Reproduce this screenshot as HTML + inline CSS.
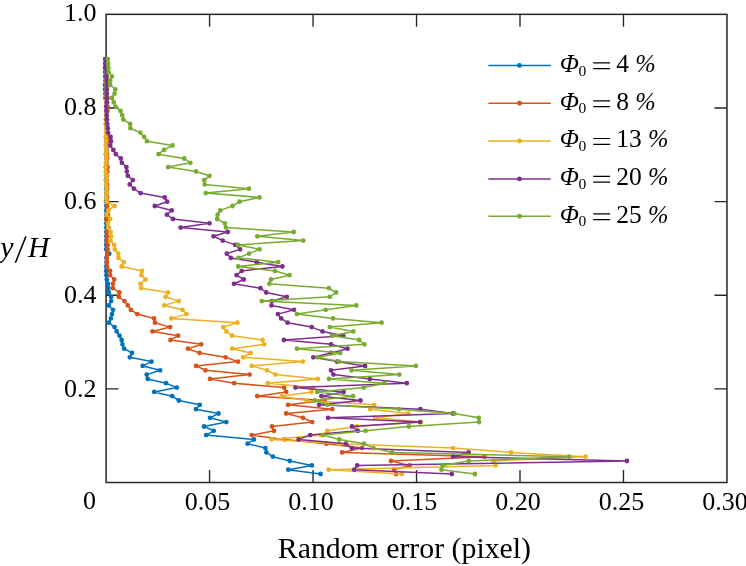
<!DOCTYPE html><html><head><meta charset="utf-8"><style>html,body{margin:0;padding:0;background:#fff;overflow:hidden}svg{display:block;will-change:transform}text{font-family:"Liberation Serif",serif;fill:#000}.i{font-style:italic}</style></head><body>
<svg width="746" height="566" viewBox="0 0 746 566">
<path d="M209.57 482.50V470.00M209.57 14.35V26.85M313.05 482.50V470.00M313.05 14.35V26.85M416.53 482.50V470.00M416.53 14.35V26.85M520.00 482.50V470.00M520.00 14.35V26.85M623.48 482.50V470.00M623.48 14.35V26.85M106.10 388.87H118.60M726.95 388.87H714.45M106.10 295.24H118.60M726.95 295.24H714.45M106.10 201.61H118.60M726.95 201.61H714.45M106.10 107.98H118.60M726.95 107.98H714.45" stroke="#262626" stroke-width="1.35" fill="none"/>
<rect x="106.10" y="14.35" width="620.85" height="468.15" fill="none" stroke="#262626" stroke-width="1.5"/>
<polyline points="320.6,474.0 288.3,469.7 311.9,465.4 289.8,461.0 272.9,456.7 266.4,452.4 265.4,448.1 247.6,443.7 254.0,439.4 206.2,435.1 213.7,430.8 204.0,426.5 226.3,422.1 210.0,417.8 218.5,413.5 196.0,409.2 199.8,404.8 178.8,400.5 172.2,396.2 154.2,391.9 176.8,387.6 166.0,383.2 147.8,378.9 146.7,374.6 160.2,370.3 142.7,365.9 151.5,361.6 129.8,357.3 132.0,353.0 124.1,348.7 122.5,344.3 121.6,340.0 119.5,335.7 116.7,331.4 114.6,327.1 108.9,322.7 110.9,318.4 112.0,314.1 113.0,309.8 108.7,305.4 111.1,301.1 111.1,296.8 108.7,292.5 108.4,288.2 108.0,283.8 106.8,279.5 106.4,275.2 106.2,270.9 106.1,266.5 106.5,262.2 106.4,257.9 109.3,253.6 106.1,249.3 106.2,244.9 106.2,240.6 106.3,236.3 106.3,232.0 106.2,227.6 106.3,223.3 106.5,219.0 106.2,214.7 106.2,210.4 106.3,206.0 106.0,201.7 106.1,197.4 106.5,193.1 106.2,188.7 106.2,184.4 105.9,180.1 106.1,175.8 106.2,171.5 105.9,167.1 106.3,162.8 106.3,158.5 105.9,154.2 106.3,149.9 106.2,145.5 106.3,141.2 106.1,136.9 106.3,132.6 106.3,128.2 105.9,123.9 105.9,119.6 106.3,115.3 106.5,111.0 106.1,106.6 106.2,102.3 105.4,98.0 105.4,93.7 105.0,89.3 105.0,85.0 105.5,80.7 105.2,76.4 105.1,72.1 105.6,67.7 105.3,63.4 105.5,59.1" fill="none" stroke="#0072BD" stroke-width="1.50" stroke-linejoin="round"/>
<path d="M320.6 474.0m-2.4 0a2.4 2.4 0 1 0 4.8 0a2.4 2.4 0 1 0 -4.8 0M288.3 469.7m-2.4 0a2.4 2.4 0 1 0 4.8 0a2.4 2.4 0 1 0 -4.8 0M311.9 465.4m-2.4 0a2.4 2.4 0 1 0 4.8 0a2.4 2.4 0 1 0 -4.8 0M289.8 461.0m-2.4 0a2.4 2.4 0 1 0 4.8 0a2.4 2.4 0 1 0 -4.8 0M272.9 456.7m-2.4 0a2.4 2.4 0 1 0 4.8 0a2.4 2.4 0 1 0 -4.8 0M266.4 452.4m-2.4 0a2.4 2.4 0 1 0 4.8 0a2.4 2.4 0 1 0 -4.8 0M265.4 448.1m-2.4 0a2.4 2.4 0 1 0 4.8 0a2.4 2.4 0 1 0 -4.8 0M247.6 443.7m-2.4 0a2.4 2.4 0 1 0 4.8 0a2.4 2.4 0 1 0 -4.8 0M254.0 439.4m-2.4 0a2.4 2.4 0 1 0 4.8 0a2.4 2.4 0 1 0 -4.8 0M206.2 435.1m-2.4 0a2.4 2.4 0 1 0 4.8 0a2.4 2.4 0 1 0 -4.8 0M213.7 430.8m-2.4 0a2.4 2.4 0 1 0 4.8 0a2.4 2.4 0 1 0 -4.8 0M204.0 426.5m-2.4 0a2.4 2.4 0 1 0 4.8 0a2.4 2.4 0 1 0 -4.8 0M226.3 422.1m-2.4 0a2.4 2.4 0 1 0 4.8 0a2.4 2.4 0 1 0 -4.8 0M210.0 417.8m-2.4 0a2.4 2.4 0 1 0 4.8 0a2.4 2.4 0 1 0 -4.8 0M218.5 413.5m-2.4 0a2.4 2.4 0 1 0 4.8 0a2.4 2.4 0 1 0 -4.8 0M196.0 409.2m-2.4 0a2.4 2.4 0 1 0 4.8 0a2.4 2.4 0 1 0 -4.8 0M199.8 404.8m-2.4 0a2.4 2.4 0 1 0 4.8 0a2.4 2.4 0 1 0 -4.8 0M178.8 400.5m-2.4 0a2.4 2.4 0 1 0 4.8 0a2.4 2.4 0 1 0 -4.8 0M172.2 396.2m-2.4 0a2.4 2.4 0 1 0 4.8 0a2.4 2.4 0 1 0 -4.8 0M154.2 391.9m-2.4 0a2.4 2.4 0 1 0 4.8 0a2.4 2.4 0 1 0 -4.8 0M176.8 387.6m-2.4 0a2.4 2.4 0 1 0 4.8 0a2.4 2.4 0 1 0 -4.8 0M166.0 383.2m-2.4 0a2.4 2.4 0 1 0 4.8 0a2.4 2.4 0 1 0 -4.8 0M147.8 378.9m-2.4 0a2.4 2.4 0 1 0 4.8 0a2.4 2.4 0 1 0 -4.8 0M146.7 374.6m-2.4 0a2.4 2.4 0 1 0 4.8 0a2.4 2.4 0 1 0 -4.8 0M160.2 370.3m-2.4 0a2.4 2.4 0 1 0 4.8 0a2.4 2.4 0 1 0 -4.8 0M142.7 365.9m-2.4 0a2.4 2.4 0 1 0 4.8 0a2.4 2.4 0 1 0 -4.8 0M151.5 361.6m-2.4 0a2.4 2.4 0 1 0 4.8 0a2.4 2.4 0 1 0 -4.8 0M129.8 357.3m-2.4 0a2.4 2.4 0 1 0 4.8 0a2.4 2.4 0 1 0 -4.8 0M132.0 353.0m-2.4 0a2.4 2.4 0 1 0 4.8 0a2.4 2.4 0 1 0 -4.8 0M124.1 348.7m-2.4 0a2.4 2.4 0 1 0 4.8 0a2.4 2.4 0 1 0 -4.8 0M122.5 344.3m-2.4 0a2.4 2.4 0 1 0 4.8 0a2.4 2.4 0 1 0 -4.8 0M121.6 340.0m-2.4 0a2.4 2.4 0 1 0 4.8 0a2.4 2.4 0 1 0 -4.8 0M119.5 335.7m-2.4 0a2.4 2.4 0 1 0 4.8 0a2.4 2.4 0 1 0 -4.8 0M116.7 331.4m-2.4 0a2.4 2.4 0 1 0 4.8 0a2.4 2.4 0 1 0 -4.8 0M114.6 327.1m-2.4 0a2.4 2.4 0 1 0 4.8 0a2.4 2.4 0 1 0 -4.8 0M108.9 322.7m-2.4 0a2.4 2.4 0 1 0 4.8 0a2.4 2.4 0 1 0 -4.8 0M110.9 318.4m-2.4 0a2.4 2.4 0 1 0 4.8 0a2.4 2.4 0 1 0 -4.8 0M112.0 314.1m-2.4 0a2.4 2.4 0 1 0 4.8 0a2.4 2.4 0 1 0 -4.8 0M113.0 309.8m-2.4 0a2.4 2.4 0 1 0 4.8 0a2.4 2.4 0 1 0 -4.8 0M108.7 305.4m-2.4 0a2.4 2.4 0 1 0 4.8 0a2.4 2.4 0 1 0 -4.8 0M111.1 301.1m-2.4 0a2.4 2.4 0 1 0 4.8 0a2.4 2.4 0 1 0 -4.8 0M111.1 296.8m-2.4 0a2.4 2.4 0 1 0 4.8 0a2.4 2.4 0 1 0 -4.8 0M108.7 292.5m-2.4 0a2.4 2.4 0 1 0 4.8 0a2.4 2.4 0 1 0 -4.8 0M108.4 288.2m-2.4 0a2.4 2.4 0 1 0 4.8 0a2.4 2.4 0 1 0 -4.8 0M108.0 283.8m-2.4 0a2.4 2.4 0 1 0 4.8 0a2.4 2.4 0 1 0 -4.8 0M106.8 279.5m-2.4 0a2.4 2.4 0 1 0 4.8 0a2.4 2.4 0 1 0 -4.8 0M106.4 275.2m-2.4 0a2.4 2.4 0 1 0 4.8 0a2.4 2.4 0 1 0 -4.8 0M106.2 270.9m-2.4 0a2.4 2.4 0 1 0 4.8 0a2.4 2.4 0 1 0 -4.8 0M106.1 266.5m-2.4 0a2.4 2.4 0 1 0 4.8 0a2.4 2.4 0 1 0 -4.8 0M106.5 262.2m-2.4 0a2.4 2.4 0 1 0 4.8 0a2.4 2.4 0 1 0 -4.8 0M106.4 257.9m-2.4 0a2.4 2.4 0 1 0 4.8 0a2.4 2.4 0 1 0 -4.8 0M109.3 253.6m-2.4 0a2.4 2.4 0 1 0 4.8 0a2.4 2.4 0 1 0 -4.8 0M106.1 249.3m-2.4 0a2.4 2.4 0 1 0 4.8 0a2.4 2.4 0 1 0 -4.8 0M106.2 244.9m-2.4 0a2.4 2.4 0 1 0 4.8 0a2.4 2.4 0 1 0 -4.8 0M106.2 240.6m-2.4 0a2.4 2.4 0 1 0 4.8 0a2.4 2.4 0 1 0 -4.8 0M106.3 236.3m-2.4 0a2.4 2.4 0 1 0 4.8 0a2.4 2.4 0 1 0 -4.8 0M106.3 232.0m-2.4 0a2.4 2.4 0 1 0 4.8 0a2.4 2.4 0 1 0 -4.8 0M106.2 227.6m-2.4 0a2.4 2.4 0 1 0 4.8 0a2.4 2.4 0 1 0 -4.8 0M106.3 223.3m-2.4 0a2.4 2.4 0 1 0 4.8 0a2.4 2.4 0 1 0 -4.8 0M106.5 219.0m-2.4 0a2.4 2.4 0 1 0 4.8 0a2.4 2.4 0 1 0 -4.8 0M106.2 214.7m-2.4 0a2.4 2.4 0 1 0 4.8 0a2.4 2.4 0 1 0 -4.8 0M106.2 210.4m-2.4 0a2.4 2.4 0 1 0 4.8 0a2.4 2.4 0 1 0 -4.8 0M106.3 206.0m-2.4 0a2.4 2.4 0 1 0 4.8 0a2.4 2.4 0 1 0 -4.8 0M106.0 201.7m-2.4 0a2.4 2.4 0 1 0 4.8 0a2.4 2.4 0 1 0 -4.8 0M106.1 197.4m-2.4 0a2.4 2.4 0 1 0 4.8 0a2.4 2.4 0 1 0 -4.8 0M106.5 193.1m-2.4 0a2.4 2.4 0 1 0 4.8 0a2.4 2.4 0 1 0 -4.8 0M106.2 188.7m-2.4 0a2.4 2.4 0 1 0 4.8 0a2.4 2.4 0 1 0 -4.8 0M106.2 184.4m-2.4 0a2.4 2.4 0 1 0 4.8 0a2.4 2.4 0 1 0 -4.8 0M105.9 180.1m-2.4 0a2.4 2.4 0 1 0 4.8 0a2.4 2.4 0 1 0 -4.8 0M106.1 175.8m-2.4 0a2.4 2.4 0 1 0 4.8 0a2.4 2.4 0 1 0 -4.8 0M106.2 171.5m-2.4 0a2.4 2.4 0 1 0 4.8 0a2.4 2.4 0 1 0 -4.8 0M105.9 167.1m-2.4 0a2.4 2.4 0 1 0 4.8 0a2.4 2.4 0 1 0 -4.8 0M106.3 162.8m-2.4 0a2.4 2.4 0 1 0 4.8 0a2.4 2.4 0 1 0 -4.8 0M106.3 158.5m-2.4 0a2.4 2.4 0 1 0 4.8 0a2.4 2.4 0 1 0 -4.8 0M105.9 154.2m-2.4 0a2.4 2.4 0 1 0 4.8 0a2.4 2.4 0 1 0 -4.8 0M106.3 149.9m-2.4 0a2.4 2.4 0 1 0 4.8 0a2.4 2.4 0 1 0 -4.8 0M106.2 145.5m-2.4 0a2.4 2.4 0 1 0 4.8 0a2.4 2.4 0 1 0 -4.8 0M106.3 141.2m-2.4 0a2.4 2.4 0 1 0 4.8 0a2.4 2.4 0 1 0 -4.8 0M106.1 136.9m-2.4 0a2.4 2.4 0 1 0 4.8 0a2.4 2.4 0 1 0 -4.8 0M106.3 132.6m-2.4 0a2.4 2.4 0 1 0 4.8 0a2.4 2.4 0 1 0 -4.8 0M106.3 128.2m-2.4 0a2.4 2.4 0 1 0 4.8 0a2.4 2.4 0 1 0 -4.8 0M105.9 123.9m-2.4 0a2.4 2.4 0 1 0 4.8 0a2.4 2.4 0 1 0 -4.8 0M105.9 119.6m-2.4 0a2.4 2.4 0 1 0 4.8 0a2.4 2.4 0 1 0 -4.8 0M106.3 115.3m-2.4 0a2.4 2.4 0 1 0 4.8 0a2.4 2.4 0 1 0 -4.8 0M106.5 111.0m-2.4 0a2.4 2.4 0 1 0 4.8 0a2.4 2.4 0 1 0 -4.8 0M106.1 106.6m-2.4 0a2.4 2.4 0 1 0 4.8 0a2.4 2.4 0 1 0 -4.8 0M106.2 102.3m-2.4 0a2.4 2.4 0 1 0 4.8 0a2.4 2.4 0 1 0 -4.8 0M105.4 98.0m-2.4 0a2.4 2.4 0 1 0 4.8 0a2.4 2.4 0 1 0 -4.8 0M105.4 93.7m-2.4 0a2.4 2.4 0 1 0 4.8 0a2.4 2.4 0 1 0 -4.8 0M105.0 89.3m-2.4 0a2.4 2.4 0 1 0 4.8 0a2.4 2.4 0 1 0 -4.8 0M105.0 85.0m-2.4 0a2.4 2.4 0 1 0 4.8 0a2.4 2.4 0 1 0 -4.8 0M105.5 80.7m-2.4 0a2.4 2.4 0 1 0 4.8 0a2.4 2.4 0 1 0 -4.8 0M105.2 76.4m-2.4 0a2.4 2.4 0 1 0 4.8 0a2.4 2.4 0 1 0 -4.8 0M105.1 72.1m-2.4 0a2.4 2.4 0 1 0 4.8 0a2.4 2.4 0 1 0 -4.8 0M105.6 67.7m-2.4 0a2.4 2.4 0 1 0 4.8 0a2.4 2.4 0 1 0 -4.8 0M105.3 63.4m-2.4 0a2.4 2.4 0 1 0 4.8 0a2.4 2.4 0 1 0 -4.8 0M105.5 59.1m-2.4 0a2.4 2.4 0 1 0 4.8 0a2.4 2.4 0 1 0 -4.8 0" fill="#0072BD"/>
<polyline points="396.1,474.0 394.0,469.7 409.6,465.4 391.0,461.0 484.5,456.7 342.1,452.4 362.0,448.1 326.3,443.7 284.6,439.4 251.8,435.1 274.0,430.8 272.0,426.5 312.2,422.1 302.9,417.8 286.2,413.5 332.2,409.2 288.1,404.8 324.6,400.5 257.2,396.2 286.2,391.9 284.1,387.6 234.2,383.2 210.0,378.9 249.6,374.6 205.4,370.3 196.1,365.9 238.0,361.6 225.6,357.3 199.6,353.0 188.0,348.7 201.2,344.3 170.5,340.0 178.1,335.7 152.5,331.4 170.1,327.1 155.0,322.7 154.0,318.4 137.3,314.1 130.9,309.8 127.8,305.4 124.4,301.1 118.8,296.8 119.4,292.5 113.0,288.2 113.0,283.8 114.2,279.5 110.1,275.2 110.1,270.9 107.0,266.5 107.0,262.2 106.8,257.9 107.2,253.6 107.7,249.3 107.7,244.9 106.7,240.6 107.4,236.3 106.6,232.0 108.5,227.6 107.5,223.3 106.2,219.0 108.0,214.7 107.4,210.4 107.1,206.0 107.1,201.7 107.2,197.4 106.7,193.1 107.3,188.7 107.1,184.4 106.8,180.1 106.6,175.8 107.4,171.5 107.5,167.1 106.6,162.8 107.3,158.5 106.9,154.2 106.7,149.9 106.8,145.5 107.3,141.2 107.4,136.9 106.5,132.6 107.1,128.2 106.5,123.9 107.2,119.6 106.8,115.3 107.4,111.0 107.5,106.6 107.0,102.3 107.5,98.0 106.8,93.7 106.6,89.3 107.1,85.0 106.5,80.7 106.7,76.4 106.9,72.1 107.1,67.7 106.7,63.4 106.5,59.1" fill="none" stroke="#D95319" stroke-width="1.50" stroke-linejoin="round"/>
<path d="M396.1 474.0m-2.4 0a2.4 2.4 0 1 0 4.8 0a2.4 2.4 0 1 0 -4.8 0M394.0 469.7m-2.4 0a2.4 2.4 0 1 0 4.8 0a2.4 2.4 0 1 0 -4.8 0M409.6 465.4m-2.4 0a2.4 2.4 0 1 0 4.8 0a2.4 2.4 0 1 0 -4.8 0M391.0 461.0m-2.4 0a2.4 2.4 0 1 0 4.8 0a2.4 2.4 0 1 0 -4.8 0M484.5 456.7m-2.4 0a2.4 2.4 0 1 0 4.8 0a2.4 2.4 0 1 0 -4.8 0M342.1 452.4m-2.4 0a2.4 2.4 0 1 0 4.8 0a2.4 2.4 0 1 0 -4.8 0M362.0 448.1m-2.4 0a2.4 2.4 0 1 0 4.8 0a2.4 2.4 0 1 0 -4.8 0M326.3 443.7m-2.4 0a2.4 2.4 0 1 0 4.8 0a2.4 2.4 0 1 0 -4.8 0M284.6 439.4m-2.4 0a2.4 2.4 0 1 0 4.8 0a2.4 2.4 0 1 0 -4.8 0M251.8 435.1m-2.4 0a2.4 2.4 0 1 0 4.8 0a2.4 2.4 0 1 0 -4.8 0M274.0 430.8m-2.4 0a2.4 2.4 0 1 0 4.8 0a2.4 2.4 0 1 0 -4.8 0M272.0 426.5m-2.4 0a2.4 2.4 0 1 0 4.8 0a2.4 2.4 0 1 0 -4.8 0M312.2 422.1m-2.4 0a2.4 2.4 0 1 0 4.8 0a2.4 2.4 0 1 0 -4.8 0M302.9 417.8m-2.4 0a2.4 2.4 0 1 0 4.8 0a2.4 2.4 0 1 0 -4.8 0M286.2 413.5m-2.4 0a2.4 2.4 0 1 0 4.8 0a2.4 2.4 0 1 0 -4.8 0M332.2 409.2m-2.4 0a2.4 2.4 0 1 0 4.8 0a2.4 2.4 0 1 0 -4.8 0M288.1 404.8m-2.4 0a2.4 2.4 0 1 0 4.8 0a2.4 2.4 0 1 0 -4.8 0M324.6 400.5m-2.4 0a2.4 2.4 0 1 0 4.8 0a2.4 2.4 0 1 0 -4.8 0M257.2 396.2m-2.4 0a2.4 2.4 0 1 0 4.8 0a2.4 2.4 0 1 0 -4.8 0M286.2 391.9m-2.4 0a2.4 2.4 0 1 0 4.8 0a2.4 2.4 0 1 0 -4.8 0M284.1 387.6m-2.4 0a2.4 2.4 0 1 0 4.8 0a2.4 2.4 0 1 0 -4.8 0M234.2 383.2m-2.4 0a2.4 2.4 0 1 0 4.8 0a2.4 2.4 0 1 0 -4.8 0M210.0 378.9m-2.4 0a2.4 2.4 0 1 0 4.8 0a2.4 2.4 0 1 0 -4.8 0M249.6 374.6m-2.4 0a2.4 2.4 0 1 0 4.8 0a2.4 2.4 0 1 0 -4.8 0M205.4 370.3m-2.4 0a2.4 2.4 0 1 0 4.8 0a2.4 2.4 0 1 0 -4.8 0M196.1 365.9m-2.4 0a2.4 2.4 0 1 0 4.8 0a2.4 2.4 0 1 0 -4.8 0M238.0 361.6m-2.4 0a2.4 2.4 0 1 0 4.8 0a2.4 2.4 0 1 0 -4.8 0M225.6 357.3m-2.4 0a2.4 2.4 0 1 0 4.8 0a2.4 2.4 0 1 0 -4.8 0M199.6 353.0m-2.4 0a2.4 2.4 0 1 0 4.8 0a2.4 2.4 0 1 0 -4.8 0M188.0 348.7m-2.4 0a2.4 2.4 0 1 0 4.8 0a2.4 2.4 0 1 0 -4.8 0M201.2 344.3m-2.4 0a2.4 2.4 0 1 0 4.8 0a2.4 2.4 0 1 0 -4.8 0M170.5 340.0m-2.4 0a2.4 2.4 0 1 0 4.8 0a2.4 2.4 0 1 0 -4.8 0M178.1 335.7m-2.4 0a2.4 2.4 0 1 0 4.8 0a2.4 2.4 0 1 0 -4.8 0M152.5 331.4m-2.4 0a2.4 2.4 0 1 0 4.8 0a2.4 2.4 0 1 0 -4.8 0M170.1 327.1m-2.4 0a2.4 2.4 0 1 0 4.8 0a2.4 2.4 0 1 0 -4.8 0M155.0 322.7m-2.4 0a2.4 2.4 0 1 0 4.8 0a2.4 2.4 0 1 0 -4.8 0M154.0 318.4m-2.4 0a2.4 2.4 0 1 0 4.8 0a2.4 2.4 0 1 0 -4.8 0M137.3 314.1m-2.4 0a2.4 2.4 0 1 0 4.8 0a2.4 2.4 0 1 0 -4.8 0M130.9 309.8m-2.4 0a2.4 2.4 0 1 0 4.8 0a2.4 2.4 0 1 0 -4.8 0M127.8 305.4m-2.4 0a2.4 2.4 0 1 0 4.8 0a2.4 2.4 0 1 0 -4.8 0M124.4 301.1m-2.4 0a2.4 2.4 0 1 0 4.8 0a2.4 2.4 0 1 0 -4.8 0M118.8 296.8m-2.4 0a2.4 2.4 0 1 0 4.8 0a2.4 2.4 0 1 0 -4.8 0M119.4 292.5m-2.4 0a2.4 2.4 0 1 0 4.8 0a2.4 2.4 0 1 0 -4.8 0M113.0 288.2m-2.4 0a2.4 2.4 0 1 0 4.8 0a2.4 2.4 0 1 0 -4.8 0M113.0 283.8m-2.4 0a2.4 2.4 0 1 0 4.8 0a2.4 2.4 0 1 0 -4.8 0M114.2 279.5m-2.4 0a2.4 2.4 0 1 0 4.8 0a2.4 2.4 0 1 0 -4.8 0M110.1 275.2m-2.4 0a2.4 2.4 0 1 0 4.8 0a2.4 2.4 0 1 0 -4.8 0M110.1 270.9m-2.4 0a2.4 2.4 0 1 0 4.8 0a2.4 2.4 0 1 0 -4.8 0M107.0 266.5m-2.4 0a2.4 2.4 0 1 0 4.8 0a2.4 2.4 0 1 0 -4.8 0M107.0 262.2m-2.4 0a2.4 2.4 0 1 0 4.8 0a2.4 2.4 0 1 0 -4.8 0M106.8 257.9m-2.4 0a2.4 2.4 0 1 0 4.8 0a2.4 2.4 0 1 0 -4.8 0M107.2 253.6m-2.4 0a2.4 2.4 0 1 0 4.8 0a2.4 2.4 0 1 0 -4.8 0M107.7 249.3m-2.4 0a2.4 2.4 0 1 0 4.8 0a2.4 2.4 0 1 0 -4.8 0M107.7 244.9m-2.4 0a2.4 2.4 0 1 0 4.8 0a2.4 2.4 0 1 0 -4.8 0M106.7 240.6m-2.4 0a2.4 2.4 0 1 0 4.8 0a2.4 2.4 0 1 0 -4.8 0M107.4 236.3m-2.4 0a2.4 2.4 0 1 0 4.8 0a2.4 2.4 0 1 0 -4.8 0M106.6 232.0m-2.4 0a2.4 2.4 0 1 0 4.8 0a2.4 2.4 0 1 0 -4.8 0M108.5 227.6m-2.4 0a2.4 2.4 0 1 0 4.8 0a2.4 2.4 0 1 0 -4.8 0M107.5 223.3m-2.4 0a2.4 2.4 0 1 0 4.8 0a2.4 2.4 0 1 0 -4.8 0M106.2 219.0m-2.4 0a2.4 2.4 0 1 0 4.8 0a2.4 2.4 0 1 0 -4.8 0M108.0 214.7m-2.4 0a2.4 2.4 0 1 0 4.8 0a2.4 2.4 0 1 0 -4.8 0M107.4 210.4m-2.4 0a2.4 2.4 0 1 0 4.8 0a2.4 2.4 0 1 0 -4.8 0M107.1 206.0m-2.4 0a2.4 2.4 0 1 0 4.8 0a2.4 2.4 0 1 0 -4.8 0M107.1 201.7m-2.4 0a2.4 2.4 0 1 0 4.8 0a2.4 2.4 0 1 0 -4.8 0M107.2 197.4m-2.4 0a2.4 2.4 0 1 0 4.8 0a2.4 2.4 0 1 0 -4.8 0M106.7 193.1m-2.4 0a2.4 2.4 0 1 0 4.8 0a2.4 2.4 0 1 0 -4.8 0M107.3 188.7m-2.4 0a2.4 2.4 0 1 0 4.8 0a2.4 2.4 0 1 0 -4.8 0M107.1 184.4m-2.4 0a2.4 2.4 0 1 0 4.8 0a2.4 2.4 0 1 0 -4.8 0M106.8 180.1m-2.4 0a2.4 2.4 0 1 0 4.8 0a2.4 2.4 0 1 0 -4.8 0M106.6 175.8m-2.4 0a2.4 2.4 0 1 0 4.8 0a2.4 2.4 0 1 0 -4.8 0M107.4 171.5m-2.4 0a2.4 2.4 0 1 0 4.8 0a2.4 2.4 0 1 0 -4.8 0M107.5 167.1m-2.4 0a2.4 2.4 0 1 0 4.8 0a2.4 2.4 0 1 0 -4.8 0M106.6 162.8m-2.4 0a2.4 2.4 0 1 0 4.8 0a2.4 2.4 0 1 0 -4.8 0M107.3 158.5m-2.4 0a2.4 2.4 0 1 0 4.8 0a2.4 2.4 0 1 0 -4.8 0M106.9 154.2m-2.4 0a2.4 2.4 0 1 0 4.8 0a2.4 2.4 0 1 0 -4.8 0M106.7 149.9m-2.4 0a2.4 2.4 0 1 0 4.8 0a2.4 2.4 0 1 0 -4.8 0M106.8 145.5m-2.4 0a2.4 2.4 0 1 0 4.8 0a2.4 2.4 0 1 0 -4.8 0M107.3 141.2m-2.4 0a2.4 2.4 0 1 0 4.8 0a2.4 2.4 0 1 0 -4.8 0M107.4 136.9m-2.4 0a2.4 2.4 0 1 0 4.8 0a2.4 2.4 0 1 0 -4.8 0M106.5 132.6m-2.4 0a2.4 2.4 0 1 0 4.8 0a2.4 2.4 0 1 0 -4.8 0M107.1 128.2m-2.4 0a2.4 2.4 0 1 0 4.8 0a2.4 2.4 0 1 0 -4.8 0M106.5 123.9m-2.4 0a2.4 2.4 0 1 0 4.8 0a2.4 2.4 0 1 0 -4.8 0M107.2 119.6m-2.4 0a2.4 2.4 0 1 0 4.8 0a2.4 2.4 0 1 0 -4.8 0M106.8 115.3m-2.4 0a2.4 2.4 0 1 0 4.8 0a2.4 2.4 0 1 0 -4.8 0M107.4 111.0m-2.4 0a2.4 2.4 0 1 0 4.8 0a2.4 2.4 0 1 0 -4.8 0M107.5 106.6m-2.4 0a2.4 2.4 0 1 0 4.8 0a2.4 2.4 0 1 0 -4.8 0M107.0 102.3m-2.4 0a2.4 2.4 0 1 0 4.8 0a2.4 2.4 0 1 0 -4.8 0M107.5 98.0m-2.4 0a2.4 2.4 0 1 0 4.8 0a2.4 2.4 0 1 0 -4.8 0M106.8 93.7m-2.4 0a2.4 2.4 0 1 0 4.8 0a2.4 2.4 0 1 0 -4.8 0M106.6 89.3m-2.4 0a2.4 2.4 0 1 0 4.8 0a2.4 2.4 0 1 0 -4.8 0M107.1 85.0m-2.4 0a2.4 2.4 0 1 0 4.8 0a2.4 2.4 0 1 0 -4.8 0M106.5 80.7m-2.4 0a2.4 2.4 0 1 0 4.8 0a2.4 2.4 0 1 0 -4.8 0M106.7 76.4m-2.4 0a2.4 2.4 0 1 0 4.8 0a2.4 2.4 0 1 0 -4.8 0M106.9 72.1m-2.4 0a2.4 2.4 0 1 0 4.8 0a2.4 2.4 0 1 0 -4.8 0M107.1 67.7m-2.4 0a2.4 2.4 0 1 0 4.8 0a2.4 2.4 0 1 0 -4.8 0M106.7 63.4m-2.4 0a2.4 2.4 0 1 0 4.8 0a2.4 2.4 0 1 0 -4.8 0M106.5 59.1m-2.4 0a2.4 2.4 0 1 0 4.8 0a2.4 2.4 0 1 0 -4.8 0" fill="#D95319"/>
<polyline points="401.9,474.0 328.7,469.7 495.5,465.4 493.6,461.0 585.6,456.7 511.0,452.4 453.0,448.1 339.0,443.7 271.6,439.4 320.5,435.1 327.6,430.8 356.9,426.5 421.1,422.1 375.1,417.8 408.4,413.5 370.2,409.2 374.2,404.8 306.5,400.5 281.8,396.2 311.6,391.9 313.3,387.6 267.7,383.2 317.7,378.9 275.5,374.6 267.0,370.3 251.7,365.9 302.8,361.6 243.0,357.3 250.6,353.0 232.1,348.7 264.2,344.3 262.6,340.0 232.1,335.7 226.4,331.4 223.2,327.1 237.4,322.7 171.3,318.4 186.5,314.1 182.5,309.8 164.3,305.4 178.8,301.1 165.6,296.8 168.0,292.5 141.2,288.2 140.5,283.8 145.5,279.5 141.4,275.2 142.0,270.9 121.6,266.5 123.9,262.2 118.5,257.9 118.3,253.6 114.8,249.3 114.2,244.9 110.5,240.6 111.1,236.3 110.6,232.0 108.0,227.6 108.0,223.3 110.2,219.0 106.6,214.7 108.4,210.4 114.6,206.0 106.6,201.7 106.2,197.4 106.6,193.1 106.6,188.7 106.0,184.4 106.3,180.1 106.3,175.8 105.7,171.5 105.7,167.1 105.8,162.8 106.4,158.5 105.9,154.2 106.1,149.9 105.8,145.5 106.0,141.2 105.9,136.9 105.9,132.6 106.1,128.2 106.1,123.9 106.3,119.6 106.1,115.3 106.3,111.0 106.3,106.6 106.4,102.3 106.1,98.0 106.6,93.7 106.7,89.3 106.4,85.0 106.7,80.7 106.8,76.4 106.6,72.1 106.7,67.7 106.7,63.4 106.3,59.1" fill="none" stroke="#EDB120" stroke-width="1.50" stroke-linejoin="round"/>
<path d="M401.9 474.0m-2.4 0a2.4 2.4 0 1 0 4.8 0a2.4 2.4 0 1 0 -4.8 0M328.7 469.7m-2.4 0a2.4 2.4 0 1 0 4.8 0a2.4 2.4 0 1 0 -4.8 0M495.5 465.4m-2.4 0a2.4 2.4 0 1 0 4.8 0a2.4 2.4 0 1 0 -4.8 0M493.6 461.0m-2.4 0a2.4 2.4 0 1 0 4.8 0a2.4 2.4 0 1 0 -4.8 0M585.6 456.7m-2.4 0a2.4 2.4 0 1 0 4.8 0a2.4 2.4 0 1 0 -4.8 0M511.0 452.4m-2.4 0a2.4 2.4 0 1 0 4.8 0a2.4 2.4 0 1 0 -4.8 0M453.0 448.1m-2.4 0a2.4 2.4 0 1 0 4.8 0a2.4 2.4 0 1 0 -4.8 0M339.0 443.7m-2.4 0a2.4 2.4 0 1 0 4.8 0a2.4 2.4 0 1 0 -4.8 0M271.6 439.4m-2.4 0a2.4 2.4 0 1 0 4.8 0a2.4 2.4 0 1 0 -4.8 0M320.5 435.1m-2.4 0a2.4 2.4 0 1 0 4.8 0a2.4 2.4 0 1 0 -4.8 0M327.6 430.8m-2.4 0a2.4 2.4 0 1 0 4.8 0a2.4 2.4 0 1 0 -4.8 0M356.9 426.5m-2.4 0a2.4 2.4 0 1 0 4.8 0a2.4 2.4 0 1 0 -4.8 0M421.1 422.1m-2.4 0a2.4 2.4 0 1 0 4.8 0a2.4 2.4 0 1 0 -4.8 0M375.1 417.8m-2.4 0a2.4 2.4 0 1 0 4.8 0a2.4 2.4 0 1 0 -4.8 0M408.4 413.5m-2.4 0a2.4 2.4 0 1 0 4.8 0a2.4 2.4 0 1 0 -4.8 0M370.2 409.2m-2.4 0a2.4 2.4 0 1 0 4.8 0a2.4 2.4 0 1 0 -4.8 0M374.2 404.8m-2.4 0a2.4 2.4 0 1 0 4.8 0a2.4 2.4 0 1 0 -4.8 0M306.5 400.5m-2.4 0a2.4 2.4 0 1 0 4.8 0a2.4 2.4 0 1 0 -4.8 0M281.8 396.2m-2.4 0a2.4 2.4 0 1 0 4.8 0a2.4 2.4 0 1 0 -4.8 0M311.6 391.9m-2.4 0a2.4 2.4 0 1 0 4.8 0a2.4 2.4 0 1 0 -4.8 0M313.3 387.6m-2.4 0a2.4 2.4 0 1 0 4.8 0a2.4 2.4 0 1 0 -4.8 0M267.7 383.2m-2.4 0a2.4 2.4 0 1 0 4.8 0a2.4 2.4 0 1 0 -4.8 0M317.7 378.9m-2.4 0a2.4 2.4 0 1 0 4.8 0a2.4 2.4 0 1 0 -4.8 0M275.5 374.6m-2.4 0a2.4 2.4 0 1 0 4.8 0a2.4 2.4 0 1 0 -4.8 0M267.0 370.3m-2.4 0a2.4 2.4 0 1 0 4.8 0a2.4 2.4 0 1 0 -4.8 0M251.7 365.9m-2.4 0a2.4 2.4 0 1 0 4.8 0a2.4 2.4 0 1 0 -4.8 0M302.8 361.6m-2.4 0a2.4 2.4 0 1 0 4.8 0a2.4 2.4 0 1 0 -4.8 0M243.0 357.3m-2.4 0a2.4 2.4 0 1 0 4.8 0a2.4 2.4 0 1 0 -4.8 0M250.6 353.0m-2.4 0a2.4 2.4 0 1 0 4.8 0a2.4 2.4 0 1 0 -4.8 0M232.1 348.7m-2.4 0a2.4 2.4 0 1 0 4.8 0a2.4 2.4 0 1 0 -4.8 0M264.2 344.3m-2.4 0a2.4 2.4 0 1 0 4.8 0a2.4 2.4 0 1 0 -4.8 0M262.6 340.0m-2.4 0a2.4 2.4 0 1 0 4.8 0a2.4 2.4 0 1 0 -4.8 0M232.1 335.7m-2.4 0a2.4 2.4 0 1 0 4.8 0a2.4 2.4 0 1 0 -4.8 0M226.4 331.4m-2.4 0a2.4 2.4 0 1 0 4.8 0a2.4 2.4 0 1 0 -4.8 0M223.2 327.1m-2.4 0a2.4 2.4 0 1 0 4.8 0a2.4 2.4 0 1 0 -4.8 0M237.4 322.7m-2.4 0a2.4 2.4 0 1 0 4.8 0a2.4 2.4 0 1 0 -4.8 0M171.3 318.4m-2.4 0a2.4 2.4 0 1 0 4.8 0a2.4 2.4 0 1 0 -4.8 0M186.5 314.1m-2.4 0a2.4 2.4 0 1 0 4.8 0a2.4 2.4 0 1 0 -4.8 0M182.5 309.8m-2.4 0a2.4 2.4 0 1 0 4.8 0a2.4 2.4 0 1 0 -4.8 0M164.3 305.4m-2.4 0a2.4 2.4 0 1 0 4.8 0a2.4 2.4 0 1 0 -4.8 0M178.8 301.1m-2.4 0a2.4 2.4 0 1 0 4.8 0a2.4 2.4 0 1 0 -4.8 0M165.6 296.8m-2.4 0a2.4 2.4 0 1 0 4.8 0a2.4 2.4 0 1 0 -4.8 0M168.0 292.5m-2.4 0a2.4 2.4 0 1 0 4.8 0a2.4 2.4 0 1 0 -4.8 0M141.2 288.2m-2.4 0a2.4 2.4 0 1 0 4.8 0a2.4 2.4 0 1 0 -4.8 0M140.5 283.8m-2.4 0a2.4 2.4 0 1 0 4.8 0a2.4 2.4 0 1 0 -4.8 0M145.5 279.5m-2.4 0a2.4 2.4 0 1 0 4.8 0a2.4 2.4 0 1 0 -4.8 0M141.4 275.2m-2.4 0a2.4 2.4 0 1 0 4.8 0a2.4 2.4 0 1 0 -4.8 0M142.0 270.9m-2.4 0a2.4 2.4 0 1 0 4.8 0a2.4 2.4 0 1 0 -4.8 0M121.6 266.5m-2.4 0a2.4 2.4 0 1 0 4.8 0a2.4 2.4 0 1 0 -4.8 0M123.9 262.2m-2.4 0a2.4 2.4 0 1 0 4.8 0a2.4 2.4 0 1 0 -4.8 0M118.5 257.9m-2.4 0a2.4 2.4 0 1 0 4.8 0a2.4 2.4 0 1 0 -4.8 0M118.3 253.6m-2.4 0a2.4 2.4 0 1 0 4.8 0a2.4 2.4 0 1 0 -4.8 0M114.8 249.3m-2.4 0a2.4 2.4 0 1 0 4.8 0a2.4 2.4 0 1 0 -4.8 0M114.2 244.9m-2.4 0a2.4 2.4 0 1 0 4.8 0a2.4 2.4 0 1 0 -4.8 0M110.5 240.6m-2.4 0a2.4 2.4 0 1 0 4.8 0a2.4 2.4 0 1 0 -4.8 0M111.1 236.3m-2.4 0a2.4 2.4 0 1 0 4.8 0a2.4 2.4 0 1 0 -4.8 0M110.6 232.0m-2.4 0a2.4 2.4 0 1 0 4.8 0a2.4 2.4 0 1 0 -4.8 0M108.0 227.6m-2.4 0a2.4 2.4 0 1 0 4.8 0a2.4 2.4 0 1 0 -4.8 0M108.0 223.3m-2.4 0a2.4 2.4 0 1 0 4.8 0a2.4 2.4 0 1 0 -4.8 0M110.2 219.0m-2.4 0a2.4 2.4 0 1 0 4.8 0a2.4 2.4 0 1 0 -4.8 0M106.6 214.7m-2.4 0a2.4 2.4 0 1 0 4.8 0a2.4 2.4 0 1 0 -4.8 0M108.4 210.4m-2.4 0a2.4 2.4 0 1 0 4.8 0a2.4 2.4 0 1 0 -4.8 0M114.6 206.0m-2.4 0a2.4 2.4 0 1 0 4.8 0a2.4 2.4 0 1 0 -4.8 0M106.6 201.7m-2.4 0a2.4 2.4 0 1 0 4.8 0a2.4 2.4 0 1 0 -4.8 0M106.2 197.4m-2.4 0a2.4 2.4 0 1 0 4.8 0a2.4 2.4 0 1 0 -4.8 0M106.6 193.1m-2.4 0a2.4 2.4 0 1 0 4.8 0a2.4 2.4 0 1 0 -4.8 0M106.6 188.7m-2.4 0a2.4 2.4 0 1 0 4.8 0a2.4 2.4 0 1 0 -4.8 0M106.0 184.4m-2.4 0a2.4 2.4 0 1 0 4.8 0a2.4 2.4 0 1 0 -4.8 0M106.3 180.1m-2.4 0a2.4 2.4 0 1 0 4.8 0a2.4 2.4 0 1 0 -4.8 0M106.3 175.8m-2.4 0a2.4 2.4 0 1 0 4.8 0a2.4 2.4 0 1 0 -4.8 0M105.7 171.5m-2.4 0a2.4 2.4 0 1 0 4.8 0a2.4 2.4 0 1 0 -4.8 0M105.7 167.1m-2.4 0a2.4 2.4 0 1 0 4.8 0a2.4 2.4 0 1 0 -4.8 0M105.8 162.8m-2.4 0a2.4 2.4 0 1 0 4.8 0a2.4 2.4 0 1 0 -4.8 0M106.4 158.5m-2.4 0a2.4 2.4 0 1 0 4.8 0a2.4 2.4 0 1 0 -4.8 0M105.9 154.2m-2.4 0a2.4 2.4 0 1 0 4.8 0a2.4 2.4 0 1 0 -4.8 0M106.1 149.9m-2.4 0a2.4 2.4 0 1 0 4.8 0a2.4 2.4 0 1 0 -4.8 0M105.8 145.5m-2.4 0a2.4 2.4 0 1 0 4.8 0a2.4 2.4 0 1 0 -4.8 0M106.0 141.2m-2.4 0a2.4 2.4 0 1 0 4.8 0a2.4 2.4 0 1 0 -4.8 0M105.9 136.9m-2.4 0a2.4 2.4 0 1 0 4.8 0a2.4 2.4 0 1 0 -4.8 0M105.9 132.6m-2.4 0a2.4 2.4 0 1 0 4.8 0a2.4 2.4 0 1 0 -4.8 0M106.1 128.2m-2.4 0a2.4 2.4 0 1 0 4.8 0a2.4 2.4 0 1 0 -4.8 0M106.1 123.9m-2.4 0a2.4 2.4 0 1 0 4.8 0a2.4 2.4 0 1 0 -4.8 0M106.3 119.6m-2.4 0a2.4 2.4 0 1 0 4.8 0a2.4 2.4 0 1 0 -4.8 0M106.1 115.3m-2.4 0a2.4 2.4 0 1 0 4.8 0a2.4 2.4 0 1 0 -4.8 0M106.3 111.0m-2.4 0a2.4 2.4 0 1 0 4.8 0a2.4 2.4 0 1 0 -4.8 0M106.3 106.6m-2.4 0a2.4 2.4 0 1 0 4.8 0a2.4 2.4 0 1 0 -4.8 0M106.4 102.3m-2.4 0a2.4 2.4 0 1 0 4.8 0a2.4 2.4 0 1 0 -4.8 0M106.1 98.0m-2.4 0a2.4 2.4 0 1 0 4.8 0a2.4 2.4 0 1 0 -4.8 0M106.6 93.7m-2.4 0a2.4 2.4 0 1 0 4.8 0a2.4 2.4 0 1 0 -4.8 0M106.7 89.3m-2.4 0a2.4 2.4 0 1 0 4.8 0a2.4 2.4 0 1 0 -4.8 0M106.4 85.0m-2.4 0a2.4 2.4 0 1 0 4.8 0a2.4 2.4 0 1 0 -4.8 0M106.7 80.7m-2.4 0a2.4 2.4 0 1 0 4.8 0a2.4 2.4 0 1 0 -4.8 0M106.8 76.4m-2.4 0a2.4 2.4 0 1 0 4.8 0a2.4 2.4 0 1 0 -4.8 0M106.6 72.1m-2.4 0a2.4 2.4 0 1 0 4.8 0a2.4 2.4 0 1 0 -4.8 0M106.7 67.7m-2.4 0a2.4 2.4 0 1 0 4.8 0a2.4 2.4 0 1 0 -4.8 0M106.7 63.4m-2.4 0a2.4 2.4 0 1 0 4.8 0a2.4 2.4 0 1 0 -4.8 0M106.3 59.1m-2.4 0a2.4 2.4 0 1 0 4.8 0a2.4 2.4 0 1 0 -4.8 0" fill="#EDB120"/>
<polyline points="451.8,474.0 354.2,469.7 357.2,465.4 626.9,461.0 453.2,456.7 468.6,452.4 351.8,448.1 345.8,443.7 298.6,439.4 310.2,435.1 357.8,430.8 352.0,426.5 420.0,422.1 328.1,417.8 452.9,413.5 420.4,409.2 319.1,404.8 360.5,400.5 321.4,396.2 343.6,391.9 295.5,387.6 406.8,383.2 369.8,378.9 333.4,374.6 331.0,370.3 365.0,365.9 337.0,361.6 313.3,357.3 330.9,353.0 347.5,348.7 331.0,344.3 283.9,340.0 343.3,335.7 322.5,331.4 311.7,327.1 287.6,322.7 281.1,318.4 277.9,314.1 294.0,309.8 271.5,305.4 271.8,301.1 286.8,296.8 266.2,292.5 260.5,288.2 234.0,283.8 243.8,279.5 236.6,275.2 241.7,270.9 282.4,266.5 256.7,262.2 230.8,257.9 226.8,253.6 240.1,249.3 235.3,244.9 222.7,240.6 213.5,236.3 227.7,232.0 180.6,227.6 209.5,223.3 173.0,219.0 166.9,214.7 171.7,210.4 154.8,206.0 167.2,201.7 164.7,197.4 140.5,193.1 133.9,188.7 129.7,184.4 132.9,180.1 127.8,175.8 126.8,171.5 126.4,167.1 121.9,162.8 120.8,158.5 115.8,154.2 113.4,149.9 110.2,145.5 111.0,141.2 110.6,136.9 108.1,132.6 107.8,128.2 107.3,123.9 106.8,119.6 106.7,115.3 106.4,111.0 106.2,106.6 106.9,102.3 106.6,98.0 106.8,93.7 106.9,89.3 106.8,85.0 106.9,80.7 106.5,76.4 106.8,72.1 105.1,67.7 105.3,63.4 105.2,59.1" fill="none" stroke="#7E2F8E" stroke-width="1.50" stroke-linejoin="round"/>
<path d="M451.8 474.0m-2.4 0a2.4 2.4 0 1 0 4.8 0a2.4 2.4 0 1 0 -4.8 0M354.2 469.7m-2.4 0a2.4 2.4 0 1 0 4.8 0a2.4 2.4 0 1 0 -4.8 0M357.2 465.4m-2.4 0a2.4 2.4 0 1 0 4.8 0a2.4 2.4 0 1 0 -4.8 0M626.9 461.0m-2.4 0a2.4 2.4 0 1 0 4.8 0a2.4 2.4 0 1 0 -4.8 0M453.2 456.7m-2.4 0a2.4 2.4 0 1 0 4.8 0a2.4 2.4 0 1 0 -4.8 0M468.6 452.4m-2.4 0a2.4 2.4 0 1 0 4.8 0a2.4 2.4 0 1 0 -4.8 0M351.8 448.1m-2.4 0a2.4 2.4 0 1 0 4.8 0a2.4 2.4 0 1 0 -4.8 0M345.8 443.7m-2.4 0a2.4 2.4 0 1 0 4.8 0a2.4 2.4 0 1 0 -4.8 0M298.6 439.4m-2.4 0a2.4 2.4 0 1 0 4.8 0a2.4 2.4 0 1 0 -4.8 0M310.2 435.1m-2.4 0a2.4 2.4 0 1 0 4.8 0a2.4 2.4 0 1 0 -4.8 0M357.8 430.8m-2.4 0a2.4 2.4 0 1 0 4.8 0a2.4 2.4 0 1 0 -4.8 0M352.0 426.5m-2.4 0a2.4 2.4 0 1 0 4.8 0a2.4 2.4 0 1 0 -4.8 0M420.0 422.1m-2.4 0a2.4 2.4 0 1 0 4.8 0a2.4 2.4 0 1 0 -4.8 0M328.1 417.8m-2.4 0a2.4 2.4 0 1 0 4.8 0a2.4 2.4 0 1 0 -4.8 0M452.9 413.5m-2.4 0a2.4 2.4 0 1 0 4.8 0a2.4 2.4 0 1 0 -4.8 0M420.4 409.2m-2.4 0a2.4 2.4 0 1 0 4.8 0a2.4 2.4 0 1 0 -4.8 0M319.1 404.8m-2.4 0a2.4 2.4 0 1 0 4.8 0a2.4 2.4 0 1 0 -4.8 0M360.5 400.5m-2.4 0a2.4 2.4 0 1 0 4.8 0a2.4 2.4 0 1 0 -4.8 0M321.4 396.2m-2.4 0a2.4 2.4 0 1 0 4.8 0a2.4 2.4 0 1 0 -4.8 0M343.6 391.9m-2.4 0a2.4 2.4 0 1 0 4.8 0a2.4 2.4 0 1 0 -4.8 0M295.5 387.6m-2.4 0a2.4 2.4 0 1 0 4.8 0a2.4 2.4 0 1 0 -4.8 0M406.8 383.2m-2.4 0a2.4 2.4 0 1 0 4.8 0a2.4 2.4 0 1 0 -4.8 0M369.8 378.9m-2.4 0a2.4 2.4 0 1 0 4.8 0a2.4 2.4 0 1 0 -4.8 0M333.4 374.6m-2.4 0a2.4 2.4 0 1 0 4.8 0a2.4 2.4 0 1 0 -4.8 0M331.0 370.3m-2.4 0a2.4 2.4 0 1 0 4.8 0a2.4 2.4 0 1 0 -4.8 0M365.0 365.9m-2.4 0a2.4 2.4 0 1 0 4.8 0a2.4 2.4 0 1 0 -4.8 0M337.0 361.6m-2.4 0a2.4 2.4 0 1 0 4.8 0a2.4 2.4 0 1 0 -4.8 0M313.3 357.3m-2.4 0a2.4 2.4 0 1 0 4.8 0a2.4 2.4 0 1 0 -4.8 0M330.9 353.0m-2.4 0a2.4 2.4 0 1 0 4.8 0a2.4 2.4 0 1 0 -4.8 0M347.5 348.7m-2.4 0a2.4 2.4 0 1 0 4.8 0a2.4 2.4 0 1 0 -4.8 0M331.0 344.3m-2.4 0a2.4 2.4 0 1 0 4.8 0a2.4 2.4 0 1 0 -4.8 0M283.9 340.0m-2.4 0a2.4 2.4 0 1 0 4.8 0a2.4 2.4 0 1 0 -4.8 0M343.3 335.7m-2.4 0a2.4 2.4 0 1 0 4.8 0a2.4 2.4 0 1 0 -4.8 0M322.5 331.4m-2.4 0a2.4 2.4 0 1 0 4.8 0a2.4 2.4 0 1 0 -4.8 0M311.7 327.1m-2.4 0a2.4 2.4 0 1 0 4.8 0a2.4 2.4 0 1 0 -4.8 0M287.6 322.7m-2.4 0a2.4 2.4 0 1 0 4.8 0a2.4 2.4 0 1 0 -4.8 0M281.1 318.4m-2.4 0a2.4 2.4 0 1 0 4.8 0a2.4 2.4 0 1 0 -4.8 0M277.9 314.1m-2.4 0a2.4 2.4 0 1 0 4.8 0a2.4 2.4 0 1 0 -4.8 0M294.0 309.8m-2.4 0a2.4 2.4 0 1 0 4.8 0a2.4 2.4 0 1 0 -4.8 0M271.5 305.4m-2.4 0a2.4 2.4 0 1 0 4.8 0a2.4 2.4 0 1 0 -4.8 0M271.8 301.1m-2.4 0a2.4 2.4 0 1 0 4.8 0a2.4 2.4 0 1 0 -4.8 0M286.8 296.8m-2.4 0a2.4 2.4 0 1 0 4.8 0a2.4 2.4 0 1 0 -4.8 0M266.2 292.5m-2.4 0a2.4 2.4 0 1 0 4.8 0a2.4 2.4 0 1 0 -4.8 0M260.5 288.2m-2.4 0a2.4 2.4 0 1 0 4.8 0a2.4 2.4 0 1 0 -4.8 0M234.0 283.8m-2.4 0a2.4 2.4 0 1 0 4.8 0a2.4 2.4 0 1 0 -4.8 0M243.8 279.5m-2.4 0a2.4 2.4 0 1 0 4.8 0a2.4 2.4 0 1 0 -4.8 0M236.6 275.2m-2.4 0a2.4 2.4 0 1 0 4.8 0a2.4 2.4 0 1 0 -4.8 0M241.7 270.9m-2.4 0a2.4 2.4 0 1 0 4.8 0a2.4 2.4 0 1 0 -4.8 0M282.4 266.5m-2.4 0a2.4 2.4 0 1 0 4.8 0a2.4 2.4 0 1 0 -4.8 0M256.7 262.2m-2.4 0a2.4 2.4 0 1 0 4.8 0a2.4 2.4 0 1 0 -4.8 0M230.8 257.9m-2.4 0a2.4 2.4 0 1 0 4.8 0a2.4 2.4 0 1 0 -4.8 0M226.8 253.6m-2.4 0a2.4 2.4 0 1 0 4.8 0a2.4 2.4 0 1 0 -4.8 0M240.1 249.3m-2.4 0a2.4 2.4 0 1 0 4.8 0a2.4 2.4 0 1 0 -4.8 0M235.3 244.9m-2.4 0a2.4 2.4 0 1 0 4.8 0a2.4 2.4 0 1 0 -4.8 0M222.7 240.6m-2.4 0a2.4 2.4 0 1 0 4.8 0a2.4 2.4 0 1 0 -4.8 0M213.5 236.3m-2.4 0a2.4 2.4 0 1 0 4.8 0a2.4 2.4 0 1 0 -4.8 0M227.7 232.0m-2.4 0a2.4 2.4 0 1 0 4.8 0a2.4 2.4 0 1 0 -4.8 0M180.6 227.6m-2.4 0a2.4 2.4 0 1 0 4.8 0a2.4 2.4 0 1 0 -4.8 0M209.5 223.3m-2.4 0a2.4 2.4 0 1 0 4.8 0a2.4 2.4 0 1 0 -4.8 0M173.0 219.0m-2.4 0a2.4 2.4 0 1 0 4.8 0a2.4 2.4 0 1 0 -4.8 0M166.9 214.7m-2.4 0a2.4 2.4 0 1 0 4.8 0a2.4 2.4 0 1 0 -4.8 0M171.7 210.4m-2.4 0a2.4 2.4 0 1 0 4.8 0a2.4 2.4 0 1 0 -4.8 0M154.8 206.0m-2.4 0a2.4 2.4 0 1 0 4.8 0a2.4 2.4 0 1 0 -4.8 0M167.2 201.7m-2.4 0a2.4 2.4 0 1 0 4.8 0a2.4 2.4 0 1 0 -4.8 0M164.7 197.4m-2.4 0a2.4 2.4 0 1 0 4.8 0a2.4 2.4 0 1 0 -4.8 0M140.5 193.1m-2.4 0a2.4 2.4 0 1 0 4.8 0a2.4 2.4 0 1 0 -4.8 0M133.9 188.7m-2.4 0a2.4 2.4 0 1 0 4.8 0a2.4 2.4 0 1 0 -4.8 0M129.7 184.4m-2.4 0a2.4 2.4 0 1 0 4.8 0a2.4 2.4 0 1 0 -4.8 0M132.9 180.1m-2.4 0a2.4 2.4 0 1 0 4.8 0a2.4 2.4 0 1 0 -4.8 0M127.8 175.8m-2.4 0a2.4 2.4 0 1 0 4.8 0a2.4 2.4 0 1 0 -4.8 0M126.8 171.5m-2.4 0a2.4 2.4 0 1 0 4.8 0a2.4 2.4 0 1 0 -4.8 0M126.4 167.1m-2.4 0a2.4 2.4 0 1 0 4.8 0a2.4 2.4 0 1 0 -4.8 0M121.9 162.8m-2.4 0a2.4 2.4 0 1 0 4.8 0a2.4 2.4 0 1 0 -4.8 0M120.8 158.5m-2.4 0a2.4 2.4 0 1 0 4.8 0a2.4 2.4 0 1 0 -4.8 0M115.8 154.2m-2.4 0a2.4 2.4 0 1 0 4.8 0a2.4 2.4 0 1 0 -4.8 0M113.4 149.9m-2.4 0a2.4 2.4 0 1 0 4.8 0a2.4 2.4 0 1 0 -4.8 0M110.2 145.5m-2.4 0a2.4 2.4 0 1 0 4.8 0a2.4 2.4 0 1 0 -4.8 0M111.0 141.2m-2.4 0a2.4 2.4 0 1 0 4.8 0a2.4 2.4 0 1 0 -4.8 0M110.6 136.9m-2.4 0a2.4 2.4 0 1 0 4.8 0a2.4 2.4 0 1 0 -4.8 0M108.1 132.6m-2.4 0a2.4 2.4 0 1 0 4.8 0a2.4 2.4 0 1 0 -4.8 0M107.8 128.2m-2.4 0a2.4 2.4 0 1 0 4.8 0a2.4 2.4 0 1 0 -4.8 0M107.3 123.9m-2.4 0a2.4 2.4 0 1 0 4.8 0a2.4 2.4 0 1 0 -4.8 0M106.8 119.6m-2.4 0a2.4 2.4 0 1 0 4.8 0a2.4 2.4 0 1 0 -4.8 0M106.7 115.3m-2.4 0a2.4 2.4 0 1 0 4.8 0a2.4 2.4 0 1 0 -4.8 0M106.4 111.0m-2.4 0a2.4 2.4 0 1 0 4.8 0a2.4 2.4 0 1 0 -4.8 0M106.2 106.6m-2.4 0a2.4 2.4 0 1 0 4.8 0a2.4 2.4 0 1 0 -4.8 0M106.9 102.3m-2.4 0a2.4 2.4 0 1 0 4.8 0a2.4 2.4 0 1 0 -4.8 0M106.6 98.0m-2.4 0a2.4 2.4 0 1 0 4.8 0a2.4 2.4 0 1 0 -4.8 0M106.8 93.7m-2.4 0a2.4 2.4 0 1 0 4.8 0a2.4 2.4 0 1 0 -4.8 0M106.9 89.3m-2.4 0a2.4 2.4 0 1 0 4.8 0a2.4 2.4 0 1 0 -4.8 0M106.8 85.0m-2.4 0a2.4 2.4 0 1 0 4.8 0a2.4 2.4 0 1 0 -4.8 0M106.9 80.7m-2.4 0a2.4 2.4 0 1 0 4.8 0a2.4 2.4 0 1 0 -4.8 0M106.5 76.4m-2.4 0a2.4 2.4 0 1 0 4.8 0a2.4 2.4 0 1 0 -4.8 0M106.8 72.1m-2.4 0a2.4 2.4 0 1 0 4.8 0a2.4 2.4 0 1 0 -4.8 0M105.1 67.7m-2.4 0a2.4 2.4 0 1 0 4.8 0a2.4 2.4 0 1 0 -4.8 0M105.3 63.4m-2.4 0a2.4 2.4 0 1 0 4.8 0a2.4 2.4 0 1 0 -4.8 0M105.2 59.1m-2.4 0a2.4 2.4 0 1 0 4.8 0a2.4 2.4 0 1 0 -4.8 0" fill="#7E2F8E"/>
<polyline points="474.9,474.0 441.5,469.7 442.7,465.4 468.7,461.0 569.2,456.7 392.2,452.4 373.3,448.1 363.9,443.7 339.3,439.4 323.0,435.1 365.6,430.8 408.8,426.5 479.1,422.1 478.7,417.8 454.3,413.5 399.0,409.2 327.5,404.8 314.8,400.5 353.1,396.2 317.3,391.9 363.8,387.6 384.6,383.2 329.0,378.9 399.3,374.6 351.5,370.3 415.8,365.9 339.1,361.6 317.6,357.3 340.2,353.0 296.9,348.7 364.4,344.3 359.1,340.0 332.1,335.7 353.4,331.4 329.9,327.1 381.6,322.7 333.1,318.4 296.9,314.1 325.8,309.8 356.3,305.4 261.8,301.1 329.9,296.8 336.1,292.5 328.9,288.2 269.4,283.8 271.0,279.5 289.6,275.2 275.0,270.9 238.2,266.5 278.2,262.2 238.5,257.9 249.0,253.6 259.6,249.3 238.0,244.9 303.3,240.6 257.3,236.3 293.7,232.0 225.9,227.6 224.8,223.3 217.2,219.0 217.6,214.7 220.3,210.4 232.5,206.0 239.6,201.7 259.4,197.4 205.8,193.1 248.9,188.7 204.7,184.4 204.2,180.1 209.5,175.8 196.0,171.5 168.1,167.1 190.4,162.8 184.2,158.5 158.6,154.2 164.0,149.9 172.5,145.5 146.9,141.2 144.2,136.9 140.3,132.6 130.3,128.2 130.1,123.9 123.3,119.6 122.3,115.3 120.5,111.0 115.5,106.6 113.8,102.3 112.0,98.0 114.5,93.7 115.3,89.3 110.2,85.0 110.2,80.7 112.0,76.4 108.5,72.1 108.5,67.7 108.1,63.4 107.8,59.1" fill="none" stroke="#77AC30" stroke-width="1.50" stroke-linejoin="round"/>
<path d="M474.9 474.0m-2.4 0a2.4 2.4 0 1 0 4.8 0a2.4 2.4 0 1 0 -4.8 0M441.5 469.7m-2.4 0a2.4 2.4 0 1 0 4.8 0a2.4 2.4 0 1 0 -4.8 0M442.7 465.4m-2.4 0a2.4 2.4 0 1 0 4.8 0a2.4 2.4 0 1 0 -4.8 0M468.7 461.0m-2.4 0a2.4 2.4 0 1 0 4.8 0a2.4 2.4 0 1 0 -4.8 0M569.2 456.7m-2.4 0a2.4 2.4 0 1 0 4.8 0a2.4 2.4 0 1 0 -4.8 0M392.2 452.4m-2.4 0a2.4 2.4 0 1 0 4.8 0a2.4 2.4 0 1 0 -4.8 0M373.3 448.1m-2.4 0a2.4 2.4 0 1 0 4.8 0a2.4 2.4 0 1 0 -4.8 0M363.9 443.7m-2.4 0a2.4 2.4 0 1 0 4.8 0a2.4 2.4 0 1 0 -4.8 0M339.3 439.4m-2.4 0a2.4 2.4 0 1 0 4.8 0a2.4 2.4 0 1 0 -4.8 0M323.0 435.1m-2.4 0a2.4 2.4 0 1 0 4.8 0a2.4 2.4 0 1 0 -4.8 0M365.6 430.8m-2.4 0a2.4 2.4 0 1 0 4.8 0a2.4 2.4 0 1 0 -4.8 0M408.8 426.5m-2.4 0a2.4 2.4 0 1 0 4.8 0a2.4 2.4 0 1 0 -4.8 0M479.1 422.1m-2.4 0a2.4 2.4 0 1 0 4.8 0a2.4 2.4 0 1 0 -4.8 0M478.7 417.8m-2.4 0a2.4 2.4 0 1 0 4.8 0a2.4 2.4 0 1 0 -4.8 0M454.3 413.5m-2.4 0a2.4 2.4 0 1 0 4.8 0a2.4 2.4 0 1 0 -4.8 0M399.0 409.2m-2.4 0a2.4 2.4 0 1 0 4.8 0a2.4 2.4 0 1 0 -4.8 0M327.5 404.8m-2.4 0a2.4 2.4 0 1 0 4.8 0a2.4 2.4 0 1 0 -4.8 0M314.8 400.5m-2.4 0a2.4 2.4 0 1 0 4.8 0a2.4 2.4 0 1 0 -4.8 0M353.1 396.2m-2.4 0a2.4 2.4 0 1 0 4.8 0a2.4 2.4 0 1 0 -4.8 0M317.3 391.9m-2.4 0a2.4 2.4 0 1 0 4.8 0a2.4 2.4 0 1 0 -4.8 0M363.8 387.6m-2.4 0a2.4 2.4 0 1 0 4.8 0a2.4 2.4 0 1 0 -4.8 0M384.6 383.2m-2.4 0a2.4 2.4 0 1 0 4.8 0a2.4 2.4 0 1 0 -4.8 0M329.0 378.9m-2.4 0a2.4 2.4 0 1 0 4.8 0a2.4 2.4 0 1 0 -4.8 0M399.3 374.6m-2.4 0a2.4 2.4 0 1 0 4.8 0a2.4 2.4 0 1 0 -4.8 0M351.5 370.3m-2.4 0a2.4 2.4 0 1 0 4.8 0a2.4 2.4 0 1 0 -4.8 0M415.8 365.9m-2.4 0a2.4 2.4 0 1 0 4.8 0a2.4 2.4 0 1 0 -4.8 0M339.1 361.6m-2.4 0a2.4 2.4 0 1 0 4.8 0a2.4 2.4 0 1 0 -4.8 0M317.6 357.3m-2.4 0a2.4 2.4 0 1 0 4.8 0a2.4 2.4 0 1 0 -4.8 0M340.2 353.0m-2.4 0a2.4 2.4 0 1 0 4.8 0a2.4 2.4 0 1 0 -4.8 0M296.9 348.7m-2.4 0a2.4 2.4 0 1 0 4.8 0a2.4 2.4 0 1 0 -4.8 0M364.4 344.3m-2.4 0a2.4 2.4 0 1 0 4.8 0a2.4 2.4 0 1 0 -4.8 0M359.1 340.0m-2.4 0a2.4 2.4 0 1 0 4.8 0a2.4 2.4 0 1 0 -4.8 0M332.1 335.7m-2.4 0a2.4 2.4 0 1 0 4.8 0a2.4 2.4 0 1 0 -4.8 0M353.4 331.4m-2.4 0a2.4 2.4 0 1 0 4.8 0a2.4 2.4 0 1 0 -4.8 0M329.9 327.1m-2.4 0a2.4 2.4 0 1 0 4.8 0a2.4 2.4 0 1 0 -4.8 0M381.6 322.7m-2.4 0a2.4 2.4 0 1 0 4.8 0a2.4 2.4 0 1 0 -4.8 0M333.1 318.4m-2.4 0a2.4 2.4 0 1 0 4.8 0a2.4 2.4 0 1 0 -4.8 0M296.9 314.1m-2.4 0a2.4 2.4 0 1 0 4.8 0a2.4 2.4 0 1 0 -4.8 0M325.8 309.8m-2.4 0a2.4 2.4 0 1 0 4.8 0a2.4 2.4 0 1 0 -4.8 0M356.3 305.4m-2.4 0a2.4 2.4 0 1 0 4.8 0a2.4 2.4 0 1 0 -4.8 0M261.8 301.1m-2.4 0a2.4 2.4 0 1 0 4.8 0a2.4 2.4 0 1 0 -4.8 0M329.9 296.8m-2.4 0a2.4 2.4 0 1 0 4.8 0a2.4 2.4 0 1 0 -4.8 0M336.1 292.5m-2.4 0a2.4 2.4 0 1 0 4.8 0a2.4 2.4 0 1 0 -4.8 0M328.9 288.2m-2.4 0a2.4 2.4 0 1 0 4.8 0a2.4 2.4 0 1 0 -4.8 0M269.4 283.8m-2.4 0a2.4 2.4 0 1 0 4.8 0a2.4 2.4 0 1 0 -4.8 0M271.0 279.5m-2.4 0a2.4 2.4 0 1 0 4.8 0a2.4 2.4 0 1 0 -4.8 0M289.6 275.2m-2.4 0a2.4 2.4 0 1 0 4.8 0a2.4 2.4 0 1 0 -4.8 0M275.0 270.9m-2.4 0a2.4 2.4 0 1 0 4.8 0a2.4 2.4 0 1 0 -4.8 0M238.2 266.5m-2.4 0a2.4 2.4 0 1 0 4.8 0a2.4 2.4 0 1 0 -4.8 0M278.2 262.2m-2.4 0a2.4 2.4 0 1 0 4.8 0a2.4 2.4 0 1 0 -4.8 0M238.5 257.9m-2.4 0a2.4 2.4 0 1 0 4.8 0a2.4 2.4 0 1 0 -4.8 0M249.0 253.6m-2.4 0a2.4 2.4 0 1 0 4.8 0a2.4 2.4 0 1 0 -4.8 0M259.6 249.3m-2.4 0a2.4 2.4 0 1 0 4.8 0a2.4 2.4 0 1 0 -4.8 0M238.0 244.9m-2.4 0a2.4 2.4 0 1 0 4.8 0a2.4 2.4 0 1 0 -4.8 0M303.3 240.6m-2.4 0a2.4 2.4 0 1 0 4.8 0a2.4 2.4 0 1 0 -4.8 0M257.3 236.3m-2.4 0a2.4 2.4 0 1 0 4.8 0a2.4 2.4 0 1 0 -4.8 0M293.7 232.0m-2.4 0a2.4 2.4 0 1 0 4.8 0a2.4 2.4 0 1 0 -4.8 0M225.9 227.6m-2.4 0a2.4 2.4 0 1 0 4.8 0a2.4 2.4 0 1 0 -4.8 0M224.8 223.3m-2.4 0a2.4 2.4 0 1 0 4.8 0a2.4 2.4 0 1 0 -4.8 0M217.2 219.0m-2.4 0a2.4 2.4 0 1 0 4.8 0a2.4 2.4 0 1 0 -4.8 0M217.6 214.7m-2.4 0a2.4 2.4 0 1 0 4.8 0a2.4 2.4 0 1 0 -4.8 0M220.3 210.4m-2.4 0a2.4 2.4 0 1 0 4.8 0a2.4 2.4 0 1 0 -4.8 0M232.5 206.0m-2.4 0a2.4 2.4 0 1 0 4.8 0a2.4 2.4 0 1 0 -4.8 0M239.6 201.7m-2.4 0a2.4 2.4 0 1 0 4.8 0a2.4 2.4 0 1 0 -4.8 0M259.4 197.4m-2.4 0a2.4 2.4 0 1 0 4.8 0a2.4 2.4 0 1 0 -4.8 0M205.8 193.1m-2.4 0a2.4 2.4 0 1 0 4.8 0a2.4 2.4 0 1 0 -4.8 0M248.9 188.7m-2.4 0a2.4 2.4 0 1 0 4.8 0a2.4 2.4 0 1 0 -4.8 0M204.7 184.4m-2.4 0a2.4 2.4 0 1 0 4.8 0a2.4 2.4 0 1 0 -4.8 0M204.2 180.1m-2.4 0a2.4 2.4 0 1 0 4.8 0a2.4 2.4 0 1 0 -4.8 0M209.5 175.8m-2.4 0a2.4 2.4 0 1 0 4.8 0a2.4 2.4 0 1 0 -4.8 0M196.0 171.5m-2.4 0a2.4 2.4 0 1 0 4.8 0a2.4 2.4 0 1 0 -4.8 0M168.1 167.1m-2.4 0a2.4 2.4 0 1 0 4.8 0a2.4 2.4 0 1 0 -4.8 0M190.4 162.8m-2.4 0a2.4 2.4 0 1 0 4.8 0a2.4 2.4 0 1 0 -4.8 0M184.2 158.5m-2.4 0a2.4 2.4 0 1 0 4.8 0a2.4 2.4 0 1 0 -4.8 0M158.6 154.2m-2.4 0a2.4 2.4 0 1 0 4.8 0a2.4 2.4 0 1 0 -4.8 0M164.0 149.9m-2.4 0a2.4 2.4 0 1 0 4.8 0a2.4 2.4 0 1 0 -4.8 0M172.5 145.5m-2.4 0a2.4 2.4 0 1 0 4.8 0a2.4 2.4 0 1 0 -4.8 0M146.9 141.2m-2.4 0a2.4 2.4 0 1 0 4.8 0a2.4 2.4 0 1 0 -4.8 0M144.2 136.9m-2.4 0a2.4 2.4 0 1 0 4.8 0a2.4 2.4 0 1 0 -4.8 0M140.3 132.6m-2.4 0a2.4 2.4 0 1 0 4.8 0a2.4 2.4 0 1 0 -4.8 0M130.3 128.2m-2.4 0a2.4 2.4 0 1 0 4.8 0a2.4 2.4 0 1 0 -4.8 0M130.1 123.9m-2.4 0a2.4 2.4 0 1 0 4.8 0a2.4 2.4 0 1 0 -4.8 0M123.3 119.6m-2.4 0a2.4 2.4 0 1 0 4.8 0a2.4 2.4 0 1 0 -4.8 0M122.3 115.3m-2.4 0a2.4 2.4 0 1 0 4.8 0a2.4 2.4 0 1 0 -4.8 0M120.5 111.0m-2.4 0a2.4 2.4 0 1 0 4.8 0a2.4 2.4 0 1 0 -4.8 0M115.5 106.6m-2.4 0a2.4 2.4 0 1 0 4.8 0a2.4 2.4 0 1 0 -4.8 0M113.8 102.3m-2.4 0a2.4 2.4 0 1 0 4.8 0a2.4 2.4 0 1 0 -4.8 0M112.0 98.0m-2.4 0a2.4 2.4 0 1 0 4.8 0a2.4 2.4 0 1 0 -4.8 0M114.5 93.7m-2.4 0a2.4 2.4 0 1 0 4.8 0a2.4 2.4 0 1 0 -4.8 0M115.3 89.3m-2.4 0a2.4 2.4 0 1 0 4.8 0a2.4 2.4 0 1 0 -4.8 0M110.2 85.0m-2.4 0a2.4 2.4 0 1 0 4.8 0a2.4 2.4 0 1 0 -4.8 0M110.2 80.7m-2.4 0a2.4 2.4 0 1 0 4.8 0a2.4 2.4 0 1 0 -4.8 0M112.0 76.4m-2.4 0a2.4 2.4 0 1 0 4.8 0a2.4 2.4 0 1 0 -4.8 0M108.5 72.1m-2.4 0a2.4 2.4 0 1 0 4.8 0a2.4 2.4 0 1 0 -4.8 0M108.5 67.7m-2.4 0a2.4 2.4 0 1 0 4.8 0a2.4 2.4 0 1 0 -4.8 0M108.1 63.4m-2.4 0a2.4 2.4 0 1 0 4.8 0a2.4 2.4 0 1 0 -4.8 0M107.8 59.1m-2.4 0a2.4 2.4 0 1 0 4.8 0a2.4 2.4 0 1 0 -4.8 0" fill="#77AC30"/>
<text x="207.5" y="509.5" font-size="26" text-anchor="middle">0.05</text>
<text x="310.9" y="509.5" font-size="26" text-anchor="middle">0.10</text>
<text x="414.4" y="509.5" font-size="26" text-anchor="middle">0.15</text>
<text x="517.9" y="509.5" font-size="26" text-anchor="middle">0.20</text>
<text x="621.4" y="509.5" font-size="26" text-anchor="middle">0.25</text>
<text x="724.9" y="509.5" font-size="26" text-anchor="middle">0.30</text>
<text x="89.6" y="509.4" font-size="26" text-anchor="middle">0</text>
<text x="63.9" y="396.95" font-size="26">0.2</text>
<text x="63.9" y="303.00" font-size="26">0.4</text>
<text x="63.9" y="209.10" font-size="26">0.6</text>
<text x="63.9" y="115.18" font-size="26">0.8</text>
<text x="63.9" y="21.25" font-size="26">1.0</text>
<text x="277.8" y="557.8" font-size="29.8">Random error (pixel)</text>
<text class="i" x="0.2" y="256.7" font-size="30">y</text>
<path d="M15.4 262.7L25.9 236.4" stroke="#000" stroke-width="1.5"/>
<text class="i" x="28.1" y="256.7" font-size="29.5">H</text>
<path d="M488.4 65.4H550.8" stroke="#0072BD" stroke-width="1.50"/>
<circle cx="519.5" cy="65.4" r="2.45" fill="#0072BD"/>
<text class="i" x="559.8" y="71.70" font-size="25.2">Φ</text>
<text x="578.4" y="75.55" font-size="15.5">0</text>
<path d="M593.2 62.90H610.1M593.2 68.70H610.1" stroke="#000" stroke-width="1.2"/>
<text x="616.2" y="71.70" font-size="25.5">4</text>
<text class="i" x="635.35" y="71.70" font-size="24.5">%</text>
<path d="M488.4 103.3H550.8" stroke="#D95319" stroke-width="1.50"/>
<circle cx="519.5" cy="103.3" r="2.45" fill="#D95319"/>
<text class="i" x="559.8" y="109.60" font-size="25.2">Φ</text>
<text x="578.4" y="113.45" font-size="15.5">0</text>
<path d="M593.2 100.80H610.1M593.2 106.60H610.1" stroke="#000" stroke-width="1.2"/>
<text x="616.2" y="109.60" font-size="25.5">8</text>
<text class="i" x="635.35" y="109.60" font-size="24.5">%</text>
<path d="M488.4 141.0H550.8" stroke="#EDB120" stroke-width="1.50"/>
<circle cx="519.5" cy="141.0" r="2.45" fill="#EDB120"/>
<text class="i" x="559.8" y="147.30" font-size="25.2">Φ</text>
<text x="578.4" y="151.15" font-size="15.5">0</text>
<path d="M593.2 138.50H610.1M593.2 144.30H610.1" stroke="#000" stroke-width="1.2"/>
<text x="616.2" y="147.30" font-size="25.5">13</text>
<text class="i" x="648.10" y="147.30" font-size="24.5">%</text>
<path d="M488.4 178.9H550.8" stroke="#7E2F8E" stroke-width="1.50"/>
<circle cx="519.5" cy="178.9" r="2.45" fill="#7E2F8E"/>
<text class="i" x="559.8" y="185.20" font-size="25.2">Φ</text>
<text x="578.4" y="189.05" font-size="15.5">0</text>
<path d="M593.2 176.40H610.1M593.2 182.20H610.1" stroke="#000" stroke-width="1.2"/>
<text x="616.2" y="185.20" font-size="25.5">20</text>
<text class="i" x="648.10" y="185.20" font-size="24.5">%</text>
<path d="M488.4 216.3H550.8" stroke="#77AC30" stroke-width="1.50"/>
<circle cx="519.5" cy="216.3" r="2.45" fill="#77AC30"/>
<text class="i" x="559.8" y="222.60" font-size="25.2">Φ</text>
<text x="578.4" y="226.45" font-size="15.5">0</text>
<path d="M593.2 213.80H610.1M593.2 219.60H610.1" stroke="#000" stroke-width="1.2"/>
<text x="616.2" y="222.60" font-size="25.5">25</text>
<text class="i" x="648.10" y="222.60" font-size="24.5">%</text>
</svg></body></html>
